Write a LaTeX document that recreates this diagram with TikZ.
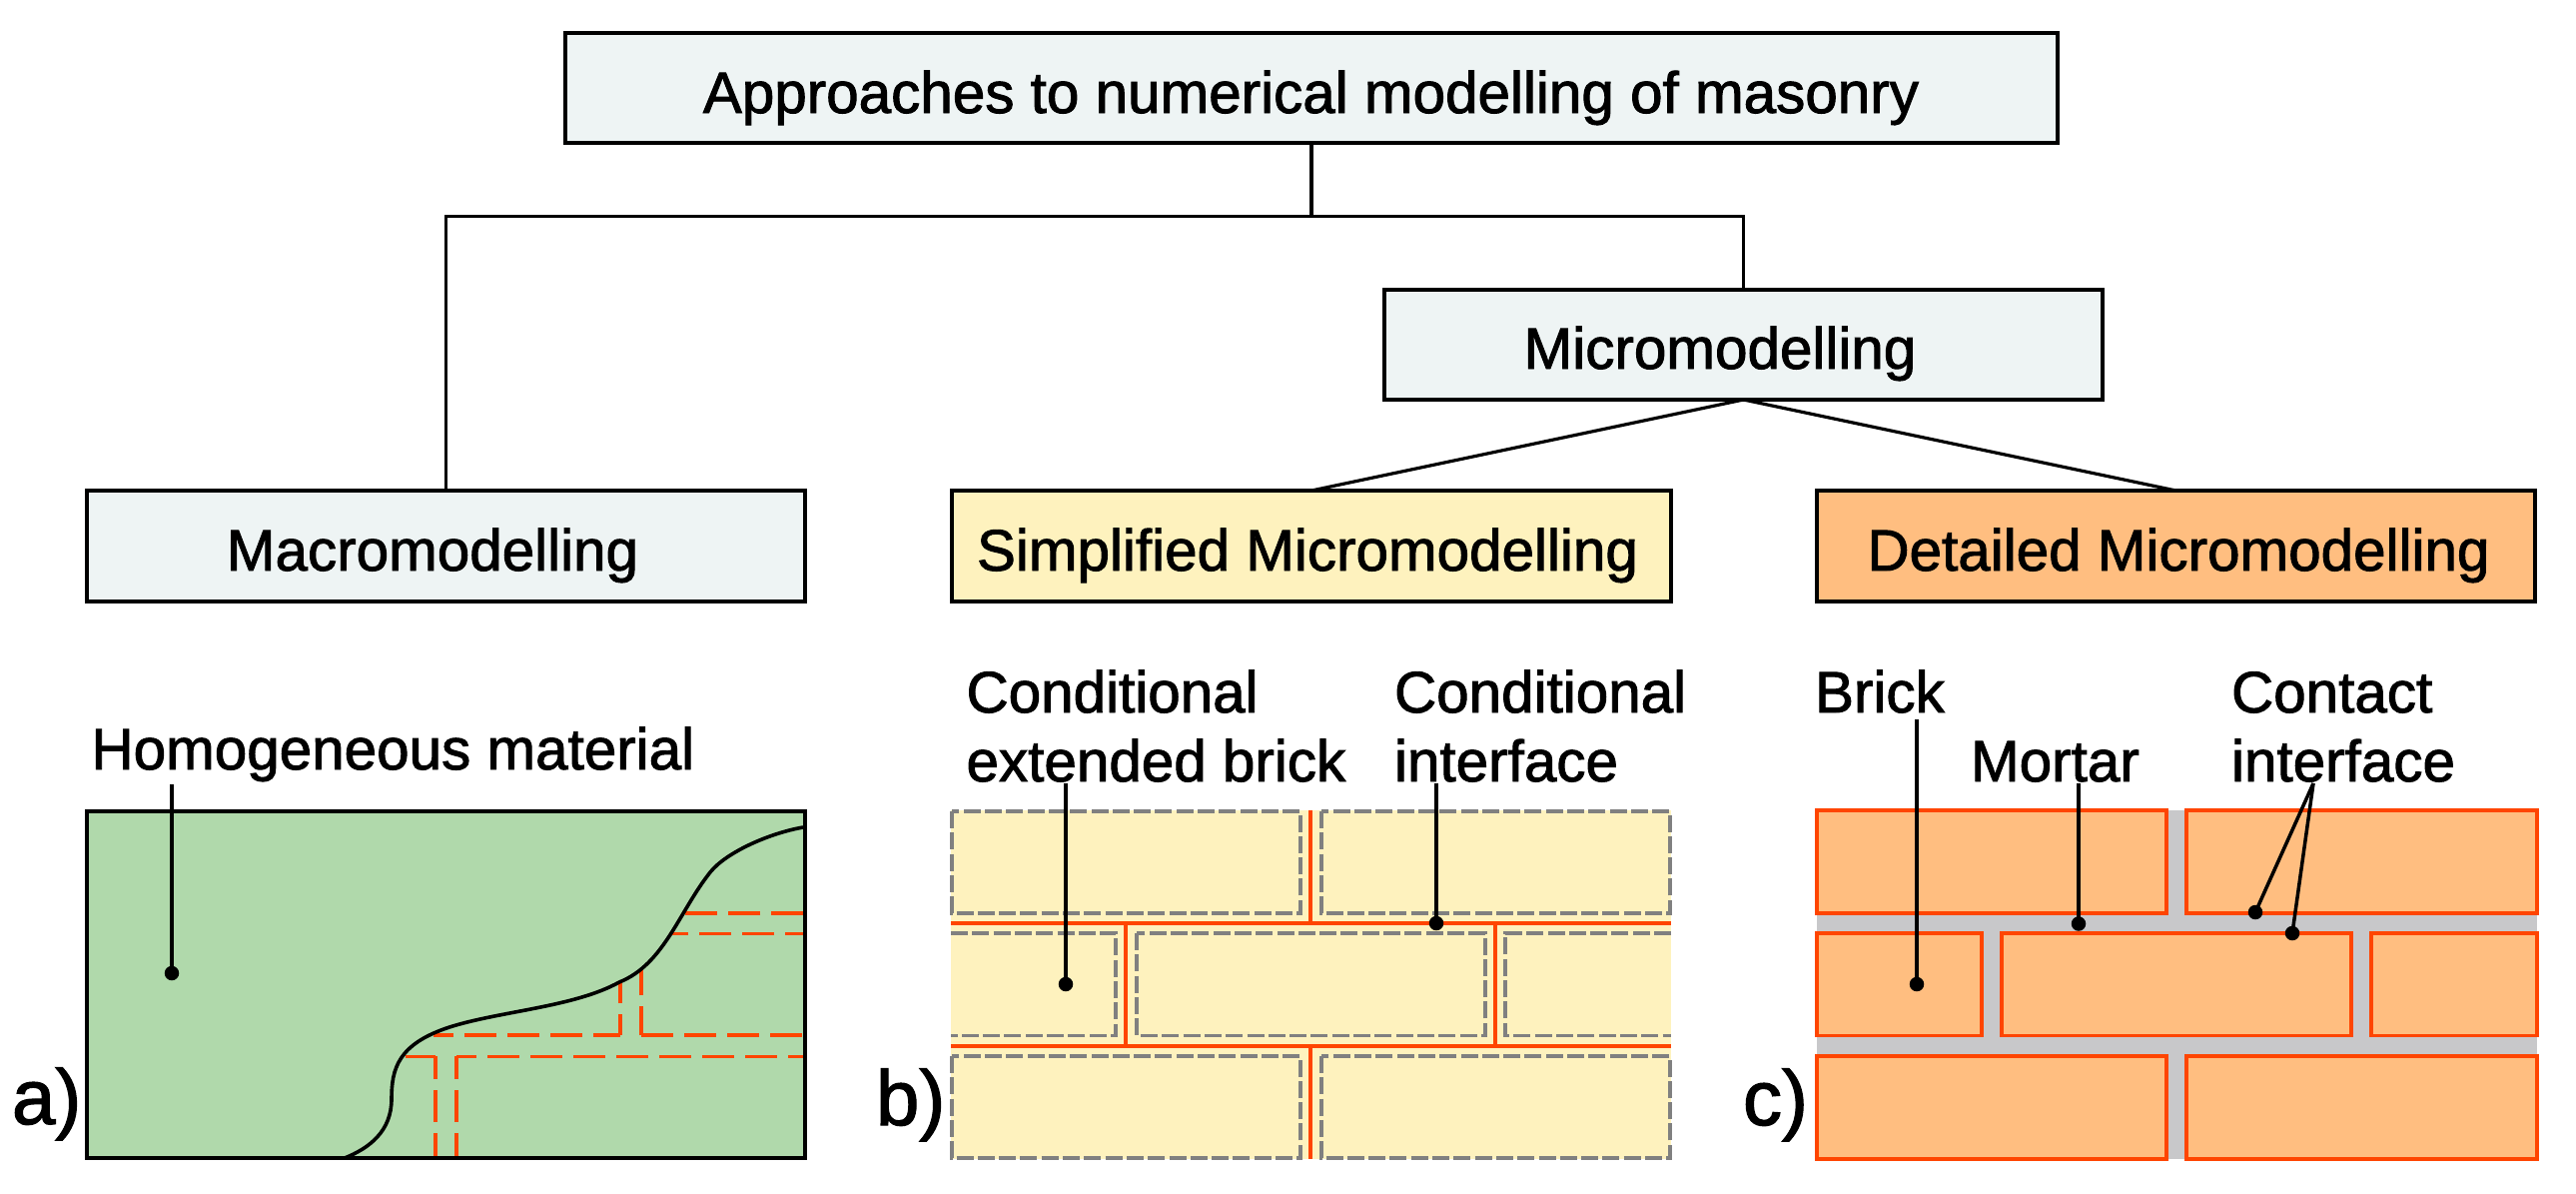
\documentclass[tikz,border=0pt]{standalone}
\usepackage{fontspec}
\setmainfont{Liberation Sans}[FakeBold=1.6]
\definecolor{palebox}{HTML}{EEF4F4}
\definecolor{creamfill}{HTML}{FEF2BE}
\definecolor{peachfill}{HTML}{FFBE80}
\definecolor{greenfill}{HTML}{B0D9AB}
\definecolor{mortargrey}{HTML}{C8C8CA}
\definecolor{jointred}{HTML}{FF4500}
\definecolor{dashgrey}{HTML}{808080}
\tikzset{
  x=1pt, y=-1pt,
  box/.style={draw=black, line width=4pt, inner sep=0pt, outer sep=0pt, minimum width=#1, minimum height=111pt},
  caption/.style={inner sep=0pt, outer sep=0pt, anchor=base, font=\fontsize{58.4}{62}\selectfont},
  lbl/.style={inner sep=0pt, outer sep=0pt, anchor=base west, font=\fontsize{58.4}{62}\selectfont},
  tag/.style={inner sep=0pt, outer sep=0pt, anchor=base west, font=\fontsize{78}{82}\selectfont},
  link/.style={draw=black, line width=3.2pt},
  leader/.style={draw=black, line width=3.5pt},
  dot/.style={circle, fill=black, inner sep=0pt, outer sep=0pt, minimum size=14.5pt},
  joint/.style={draw=jointred, line width=3.2pt},
  bedjoint/.style={draw=jointred, line width=4.4pt},
  seam/.style={draw=jointred, line width=3.1pt, dash pattern=on 32pt off 11pt, dash phase=#1},
  seam/.default=0pt,
  riser/.style={seam=#1, line width=3.7pt},
  unit/.style={draw=dashgrey, line width=3.6pt, dash pattern=on 17pt off 4.3pt},
  brick/.style={draw=jointred, fill=peachfill, line width=3.8pt},
}
\begin{document}
\begin{tikzpicture}
\fill[white] (0,0) rectangle (2579,1194);
\useasboundingbox (0,0) rectangle (2579,1194);

% hierarchy boxes
\node[box=1494pt, fill=palebox, minimum height=110pt] (top) at (1313,88) {};
\node[box=719pt, fill=palebox, minimum height=110pt] (micro) at (1745.5,345) {};
\node[box=719pt, fill=palebox] (macro) at (446.5,546.5) {};
\node[box=720pt, fill=creamfill] (simp) at (1313,546.5) {};
\node[box=719pt, fill=peachfill] (det) at (2178.5,546.5) {};

\coordinate (bar) at (1313,216.5);
\draw[link] (top.south) -- (bar);
\draw[link] (macro.north) |- (bar) -| (micro.north);
\draw[link] (micro.south) -- (simp.north);
\draw[link] (micro.south) -- (det.north);

\node[caption] (toptext) at (1312.5,113) {Approaches to numerical modelling of masonry};
\node[caption] (microtext) at (1722,369) {Micromodelling};
\node[caption] (macrotext) at (433,571) {Macromodelling};
\node[caption] (simptext) at (1309,571) {Simplified Micromodelling};
\node[caption] (dettext) at (2181,571) {Detailed Micromodelling};

% panel a: homogeneous block with the joints fading out past the crack
\fill[greenfill] (87,812) rectangle (806,1159);
\draw[seam, line width=4pt] (804,913.7) -- (684,913.7);
\draw[seam=14pt] (804,934.3) -- (670,934.3);
\draw[seam=5pt] (621,1036) -- (434,1036);
\draw[riser=11pt] (621,1036) -- (621,983);
\draw[seam] (642,1036) -- (806,1036);
\draw[riser=3pt] (642,1036) -- (642,970);
\draw[seam=2pt] (436,1057.3) -- (404,1057.3);
\draw[riser=9pt] (436,1057.3) -- (436,1159);
\draw[riser=9pt] (457,1057.3) -- (457,1159);
\draw[seam=12pt] (457,1057.3) -- (806,1057.3);
\draw[black, line width=3.6pt] (345,1159)
  .. controls (370,1149) and (392,1132) .. (392,1100)
  .. controls (392,1070) and (398,1045) .. (450,1028)
  .. controls (500,1012) and (575,1008) .. (620,983)
  .. controls (665,965) and (680,912) .. (711,873)
  .. controls (727,853) and (770,834) .. (804,828);
\draw[black, line width=4pt] (87,812) rectangle (806,1159);

% panel b: extended bricks with zero-thickness interfaces
\fill[creamfill] (952,811) rectangle (1673,1160);
\draw[unit] (953,812) rectangle (1302,914);
\draw[unit] (1323,812) rectangle (1672,914);
\draw[unit] (952,934) -- (1117,934) -- (1117,1036.5) -- (952,1036.5);
\draw[unit] (1138,934) rectangle (1487,1036.5);
\draw[unit] (1673,934) -- (1507,934) -- (1507,1036.5) -- (1673,1036.5);
\draw[unit] (953,1057) rectangle (1302,1159);
\draw[unit] (1323,1057) rectangle (1672,1159);
\draw[joint] (1312,811) -- (1312,924);
\draw[joint] (1127,924) -- (1127,1047);
\draw[joint] (1497,924) -- (1497,1047);
\draw[joint] (1312,1047) -- (1312,1160);
\draw[bedjoint] (952,924) -- (1673,924);
\draw[bedjoint] (952,1047) -- (1673,1047);

% panel c: bricks, mortar and their contact lines
\fill[mortargrey] (1819,811) rectangle (2540,1160);
\draw[brick] (1819,811) rectangle (2169,914);
\draw[brick] (2189,811) rectangle (2540,914);
\draw[brick] (1819,934) rectangle (1984,1036.5);
\draw[brick] (2004,934) rectangle (2354,1036.5);
\draw[brick] (2374,934) rectangle (2540,1036.5);
\draw[brick] (1819,1057) rectangle (2169,1160);
\draw[brick] (2189,1057) rectangle (2540,1160);

% callouts
\node[lbl] (homog) at (91.5,770) {Homogeneous material};
\node[lbl] (condA) at (967.5,713) {Conditional};
\node[lbl] (condB) at (967.5,782) {extended brick};
\node[lbl] (condC) at (1396,713) {Conditional};
\node[lbl] (condD) at (1396,782) {interface};
\node[lbl] (bricktext) at (1817,713) {Brick};
\node[lbl] (mortartext) at (1973,782) {Mortar};
\node[lbl] (contactA) at (2234,713) {Contact};
\node[lbl] (contactB) at (2234,782) {interface};

\node[tag] (taga) at (12,1125) {a)};
\node[tag] (tagb) at (877,1126) {b)};
\node[tag] (tagc) at (1745,1126) {c)};

\coordinate (sa) at (172,785);
\coordinate (sb) at (1067,784);
\coordinate (sc) at (1438,784);
\coordinate (sd) at (1919,719.5);
\coordinate (se) at (2081,784);
\coordinate (sf) at (2316,784);
\node[dot] (da) at (172,974) {};
\node[dot] (db) at (1067,985) {};
\node[dot] (dc) at (1438,924) {};
\node[dot] (dd) at (1919,985) {};
\node[dot] (de) at (2081,924.5) {};
\node[dot] (df) at (2258,913) {};
\node[dot] (dg) at (2295,934) {};
\draw[leader] (sa) -- (da.center);
\draw[leader] (sb) -- (db.center);
\draw[leader] (sc) -- (dc.center);
\draw[leader] (sd) -- (dd.center);
\draw[leader] (se) -- (de.center);
\draw[leader] (sf) -- (df.center);
\draw[leader] (sf) -- (dg.center);
\end{tikzpicture}
\end{document}
